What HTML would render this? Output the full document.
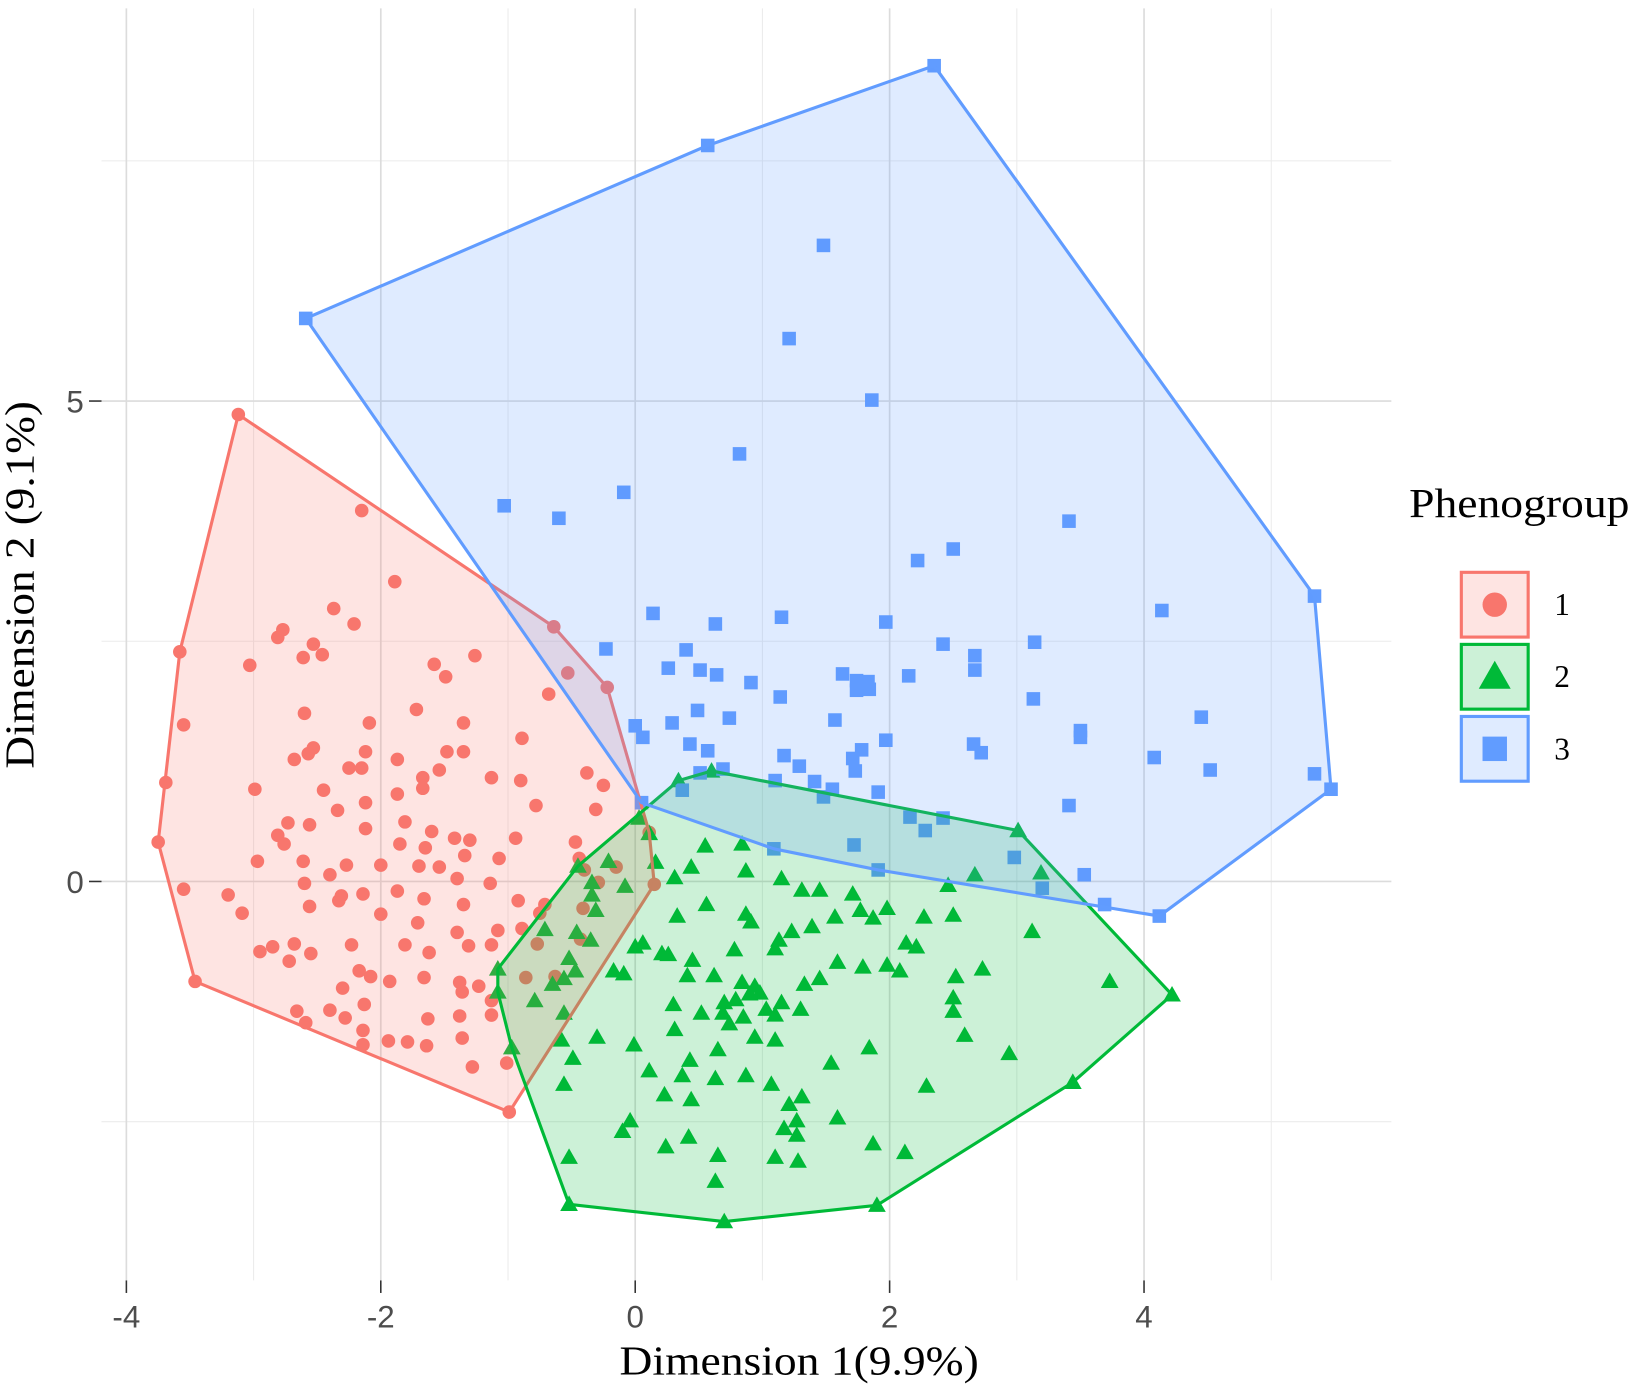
<!DOCTYPE html>
<html><head><meta charset="utf-8"><style>
html,body{margin:0;padding:0;background:#fff;}
svg{display:block;}
</style></head><body>
<svg id="chart" width="1637" height="1388" viewBox="0 0 1567 1329" xmlns="http://www.w3.org/2000/svg">
<g id="grid"></g>
<g id="pts"></g>
<g id="hulls"></g>
<g id="axes"></g>
<text x="765" y="1316" text-anchor="middle" font-family="Liberation Serif, serif" font-size="40" textLength="344" lengthAdjust="spacingAndGlyphs" fill="#000">Dimension 1(9.9%)</text>
<text transform="translate(32,560) rotate(-90)" text-anchor="middle" font-family="Liberation Serif, serif" font-size="40" textLength="352" lengthAdjust="spacingAndGlyphs" fill="#000">Dimension 2 (9.1%)</text>
<g id="legend">
<text x="1349" y="495" font-family="Liberation Serif, serif" font-size="40" textLength="211" lengthAdjust="spacingAndGlyphs" fill="#000">Phenogroup</text>
</g>
</svg>
<script>
const xTicks = [-4, -2, 0, 2, 4];
const xMinor = [-3, -1, 1, 3, 5];
const yTicks = [0, 5];
const yMinor = [-2.5, 2.5, 7.5];
const groupLabels = ["1", "2", "3"];
const g1x = [-3.12,-3.58,-3.69,-3.75,-3.46,-0.99,0.15,0.11,-0.22,-0.64,-0.53,-2.15,-1.89,-2.37,-2.21,-2.77,-2.81,-2.53,-2.46,-2.61,-3.03,-1.58,-1.26,-1.49,-0.68,-1.72,-2.60,-2.09,-3.55,-1.35,-0.89,-2.53,-2.57,-1.48,-1.35,-2.12,-1.87,-2.68,-2.25,-2.15,-1.54,-1.67,-0.90,-1.13,-0.38,-2.99,-2.45,-1.87,-1.67,-0.25,-0.31,-0.78,-2.12,-2.34,-2.73,-2.56,-2.12,-1.81,-1.60,-1.42,-1.30,-2.81,-2.76,-1.85,-0.94,-0.47,-2.97,-2.61,-2.40,-2.27,-2.00,-1.70,-1.65,-1.54,-1.34,-1.07,-1.40,-1.14,-0.44,-0.40,-0.15,-0.29,-3.20,-3.55,-3.09,-2.60,-2.31,-2.14,-1.87,-1.66,-1.35,-0.92,-0.71,-2.56,-2.33,-2.00,-1.71,-1.40,-1.08,-0.89,-0.75,-0.41,-2.95,-2.85,-2.68,-2.55,-2.23,-1.81,-1.62,-1.31,-1.13,-0.77,-0.43,-2.72,-2.17,-2.08,-1.93,-2.30,-1.66,-1.38,-1.23,-1.36,-0.86,-0.63,-1.13,-2.13,-2.66,-2.40,-2.28,-1.63,-1.38,-1.13,-2.59,-2.14,-1.79,-1.64,-1.94,-1.36,-2.14,-1.28,-1.01];
const g1y = [4.86,2.39,1.03,0.41,-1.04,-2.40,-0.03,0.51,2.02,2.65,2.17,3.86,3.12,2.84,2.68,2.62,2.54,2.47,2.36,2.33,2.25,2.26,2.35,2.13,1.95,1.79,1.75,1.65,1.63,1.65,1.49,1.39,1.33,1.35,1.35,1.35,1.27,1.27,1.18,1.18,1.16,1.08,1.05,1.08,1.13,0.96,0.95,0.91,0.97,1.00,0.75,0.79,0.82,0.74,0.61,0.59,0.55,0.62,0.52,0.45,0.43,0.48,0.39,0.39,0.45,0.41,0.21,0.21,0.07,0.17,0.17,0.16,0.35,0.15,0.27,0.24,0.03,-0.02,0.24,0.12,0.15,-0.01,-0.14,-0.08,-0.33,-0.02,-0.15,-0.13,-0.10,-0.18,-0.24,-0.20,-0.24,-0.26,-0.20,-0.34,-0.43,-0.53,-0.51,-0.49,-0.33,-0.28,-0.73,-0.68,-0.65,-0.75,-0.66,-0.66,-0.74,-0.67,-0.66,-0.65,-0.60,-0.83,-0.93,-0.99,-1.04,-1.11,-1.00,-1.05,-1.09,-1.15,-1.00,-0.99,-1.24,-1.28,-1.35,-1.34,-1.42,-1.43,-1.40,-1.39,-1.47,-1.55,-1.67,-1.71,-1.66,-1.63,-1.70,-1.93,-1.89];
const g2x = [-0.52,0.70,1.90,3.44,4.22,3.01,0.60,0.34,-1.08,-1.08,-0.97,0.03,0.11,-0.21,-0.45,-0.34,-0.34,-0.08,0.16,0.31,0.44,0.55,0.84,0.87,1.15,1.31,1.45,1.71,1.77,1.87,1.98,2.27,2.50,2.46,2.67,3.19,3.12,2.13,2.21,1.98,2.08,1.79,1.59,1.45,1.33,1.10,1.13,1.23,1.39,1.57,0.78,0.87,0.91,0.56,0.33,0,0.06,0.21,0.26,0.45,0.41,0.62,0.84,0.94,0.98,0.90,0.79,0.70,1.15,1.03,1.10,1.30,0.30,0.52,0.69,0.85,0.31,0.74,1.10,0.94,1.84,2.50,2.50,2.59,2.94,2.73,2.52,3.73,1.54,0.65,0.87,0.43,0.37,0.23,0.44,0.63,0.11,-0.56,-0.49,-0.30,-0.01,-0.58,1.07,1.31,1.21,1.17,1.27,1.27,1.10,1.28,0.63,0.65,0.24,0.42,-0.04,-0.10,-0.52,1.59,1.87,2.12,2.29,-0.56,-0.52,-0.65,-0.56,-0.09,-0.17,-0.35,-0.46,-0.31,-0.71,-0.47,-0.79];
const g2y = [-3.36,-3.54,-3.37,-2.09,-1.18,0.53,1.15,1.05,-0.91,-1.15,-1.73,0.66,0.50,0.21,0.16,-0.01,-0.14,-0.05,0.20,0.04,0.15,0.37,0.39,0.11,0.03,-0.09,-0.09,-0.13,-0.30,-0.38,-0.28,-0.37,-0.35,-0.04,0.07,0.09,-0.52,-0.64,-0.68,-0.87,-0.93,-0.89,-0.84,-1.01,-1.07,-0.70,-0.61,-0.52,-0.47,-0.37,-0.71,-0.34,-0.42,-0.24,-0.36,-0.68,-0.64,-0.75,-0.76,-0.82,-0.98,-0.98,-1.05,-1.09,-1.16,-1.17,-1.23,-1.26,-1.26,-1.33,-1.39,-1.33,-1.28,-1.37,-1.37,-1.41,-1.54,-1.48,-1.65,-1.62,-1.73,-1.21,-1.35,-1.60,-1.79,-0.91,-0.99,-1.04,-1.89,-1.75,-2.02,-1.86,-2.02,-2.22,-2.27,-2.05,-1.97,-2.11,-1.84,-1.62,-1.70,-1.65,-2.11,-2.24,-2.32,-2.57,-2.49,-2.64,-2.87,-2.91,-3.12,-2.85,-2.76,-2.66,-2.49,-2.60,-2.87,-2.46,-2.73,-2.82,-2.13,-1.01,-0.80,-1.07,-1.37,-0.96,-0.93,-0.61,-0.53,-0.30,-0.50,-0.93,-1.24];
const g3x = [-2.59,0.57,2.35,5.34,5.47,4.12,3.69,1.09,0.05,1.48,1.21,1.86,0.82,-0.09,-1.03,-0.60,3.41,2.50,2.22,4.14,0.14,1.15,0.63,1.97,-0.23,0.40,3.14,2.42,2.67,2.67,0.26,0.51,0.64,1.63,2.15,1.74,1.83,1.74,1.84,0.91,1.14,3.13,0.29,0.49,0.74,1.57,4.45,0,0.06,3.50,3.50,0.43,1.97,2.66,2.72,0.57,1.78,1.17,1.71,4.08,1.29,0.69,1.73,4.52,5.34,1.10,0.51,1.41,1.55,0.37,1.48,1.91,3.41,2.16,2.42,2.28,1.72,2.98,1.91,3.53,3.20];
const g3y = [5.86,7.66,8.49,2.97,0.96,-0.36,-0.24,0.34,0.82,6.62,5.65,5.01,4.45,4.05,3.91,3.78,3.75,3.46,3.34,2.82,2.79,2.75,2.68,2.70,2.42,2.41,2.49,2.47,2.35,2.20,2.22,2.20,2.15,2.16,2.14,2.09,2.08,1.99,2.00,2.07,1.92,1.90,1.65,1.78,1.70,1.68,1.71,1.62,1.50,1.57,1.50,1.43,1.47,1.43,1.34,1.36,1.37,1.31,1.28,1.29,1.20,1.17,1.15,1.16,1.12,1.05,1.13,1.04,0.96,0.95,0.88,0.93,0.79,0.67,0.66,0.53,0.38,0.25,0.12,0.07,-0.07];

const NS = "http://www.w3.org/2000/svg";
const colors = ["#F8766D", "#00BA38", "#619CFF"];
const fills = ["rgba(248,118,109,0.2)", "rgba(0,186,56,0.2)", "rgba(97,156,255,0.2)"];
const PL = 97, PR = 1332, PT = 8, PB = 1226;
function sx(v) { return 608 + v * 121.8; }
function sy(v) { return 844 - v * 92; }
function mk(tag, attrs, parent) {
  const e = document.createElementNS(NS, tag);
  for (const k in attrs) e.setAttribute(k, attrs[k]);
  parent.appendChild(e);
  return e;
}
const grid = document.getElementById("grid");
xMinor.forEach(v => {
  const l = mk("line", {x1: sx(v), x2: sx(v), y1: PT, y2: PB, stroke: "#ebebeb", "stroke-width": 1}, grid);
  
  
});
yMinor.forEach(v => {
  const l = mk("line", {x1: PL, x2: PR, y1: sy(v), y2: sy(v), stroke: "#ebebeb", "stroke-width": 1}, grid);
  
  
});
const axes = document.getElementById("axes");
xTicks.forEach(v => {
  const l = mk("line", {x1: sx(v), x2: sx(v), y1: PT, y2: PB, stroke: "#dcdcdc", "stroke-width": 1.6}, grid);
  
  
  const tk = mk("line", {x1: sx(v), x2: sx(v), y1: PB, y2: PB + 12, stroke: "#333", "stroke-width": 1.5}, axes);
  
  
  const t = mk("text", {x: sx(v), y: 1271, "text-anchor": "middle", "font-family": "Liberation Sans, sans-serif", "font-size": 30, fill: "#4d4d4d"}, axes);
  t.textContent = String(v);
  
  
});
yTicks.forEach(v => {
  const l = mk("line", {x1: PL, x2: PR, y1: sy(v), y2: sy(v), stroke: "#dcdcdc", "stroke-width": 1.6}, grid);
  
  
  const tk = mk("line", {x1: PL - 12, x2: PL, y1: sy(v), y2: sy(v), stroke: "#333", "stroke-width": 1.5}, axes);
  
  
  const t = mk("text", {x: 80, y: sy(v) + 11, "text-anchor": "end", "font-family": "Liberation Sans, sans-serif", "font-size": 30, fill: "#4d4d4d"}, axes);
  t.textContent = String(v);
  
  
});

function drawMarker(g, cx, cy, parent, s) {
  let e;
  if (g === 0) e = mk("circle", {cx: cx, cy: cy, r: 6.5 * s, fill: colors[0]}, parent);
  else if (g === 1) {
    const h = 8.5 * s;
    e = mk("polygon", {points: `${cx},${cy - h} ${cx - h},${cy + h * 0.75} ${cx + h},${cy + h * 0.75}`, fill: colors[1]}, parent);
  } else {
    const h = 6.5 * s;
    e = mk("rect", {x: cx - h, y: cy - h, width: 2 * h, height: 2 * h, fill: colors[2]}, parent);
  }
  return e;
}
function hull(xs, ys) {
  const p = xs.map((x, i) => [x, ys[i]]).sort((a, b) => a[0] - b[0] || a[1] - b[1]);
  const cr = (o, a, b) => (a[0] - o[0]) * (b[1] - o[1]) - (a[1] - o[1]) * (b[0] - o[0]);
  const lo = [], up = [];
  for (const q of p) { while (lo.length >= 2 && cr(lo[lo.length - 2], lo[lo.length - 1], q) <= 0) lo.pop(); lo.push(q); }
  for (let i = p.length - 1; i >= 0; i--) { const q = p[i]; while (up.length >= 2 && cr(up[up.length - 2], up[up.length - 1], q) <= 0) up.pop(); up.push(q); }
  up.pop(); lo.pop();
  return lo.concat(up);
}
const groups = [[g1x, g1y], [g2x, g2y], [g3x, g3y]];
const ptsG = document.getElementById("pts");
const hullG = document.getElementById("hulls");
groups.forEach((d, gi) => {
  d[0].forEach((x, i) => {
    const m = drawMarker(gi, sx(x), sy(d[1][i]), ptsG, 1);
    
    
  });
});
groups.forEach((d, gi) => {
  const h = hull(d[0], d[1]);
  const poly = mk("polygon", {points: h.map(q => sx(q[0]) + "," + sy(q[1])).join(" "), fill: fills[gi], stroke: colors[gi], "stroke-width": 3, "stroke-linejoin": "round"}, hullG);
  
  
});
const leg = document.getElementById("legend");
groupLabels.forEach((lab, i) => {
  const y0 = 548 + i * 69;
  const r = mk("rect", {x: 1399, y: y0, width: 64, height: 62, fill: fills[i], stroke: colors[i], "stroke-width": 3}, leg);
  
  
  const m = drawMarker(i, 1431, y0 + 31, leg, 1.8);
  
  
  const t = mk("text", {x: 1488, y: y0 + 41, "font-family": "Liberation Serif, serif", "font-size": 30, fill: "#000"}, leg);
  t.textContent = lab;
  
  
});
</script>
</body></html>
